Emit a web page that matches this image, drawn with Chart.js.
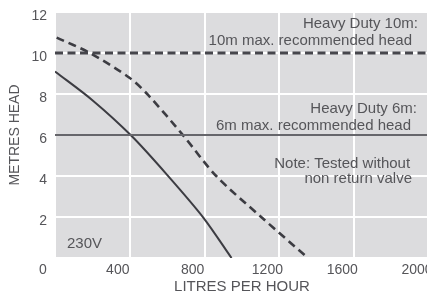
<!DOCTYPE html>
<html>
<head>
<meta charset="utf-8">
<script src="https://cdn.jsdelivr.net/npm/chart.js@4.4.1/dist/chart.umd.min.js"></script>
<style>
  html, body { margin: 0; padding: 0; background: #fff; overflow: hidden; }
  #wrap { width: 427px; height: 298px; overflow: hidden; }
</style>
</head>
<body>
<div id="wrap"><canvas id="grafico" width="440" height="298"></canvas></div>
<script>
// Pump curves: head (m) against flow (litres per hour)
const flowTicks = [0, 400, 800, 1200, 1600, 2000];
const headTicks = [0, 2, 4, 6, 8, 10, 12];

const duty6Flow = [0, 200, 410, 603, 795, 944];
const duty6Head = [9.1, 7.7, 5.95, 4.02, 1.95, 0];

const duty10Flow = [9, 187, 400, 500, 683, 862, 1104, 1349];
const duty10Head = [10.75, 10, 8.78, 7.93, 6.01, 4.0, 1.99, 0.03];

const maxHead6 = 6;
const maxHead10 = 10;

const notes = [
    { text: 'Heavy Duty 10m:', x: 1941, y: 11.22, align: 'right' },
    { text: '10m max. recommended head', x: 1909, y: 10.39, align: 'right' },
    { text: 'Heavy Duty 6m:', x: 1936, y: 7.05, align: 'right' },
    { text: '6m max. recommended head', x: 1904, y: 6.24, align: 'right' },
    { text: 'Note: Tested without', x: 1899, y: 4.40, align: 'right' },
    { text: 'non return valve', x: 1909, y: 3.64, align: 'right' },
    { text: '230V', x: 64, y: 0.47, align: 'left' }
];

const FONT = "'Liberation Sans', Arial, sans-serif";
const TEXT = '#555559';

function toPoints(xs, ys) {
    return xs.map((x, i) => ({ x: x, y: ys[i] }));
}

// gray plot background
const plotBackground = {
    id: 'plotBackground',
    beforeDraw(chart) {
        const { ctx, chartArea: a } = chart;
        ctx.save();
        ctx.fillStyle = '#dcdcde';
        ctx.fillRect(a.left, a.top, a.right - a.left, a.bottom - a.top);
        ctx.restore();
    }
};

// text notes inside the plot
const plotNotes = {
    id: 'plotNotes',
    afterDatasetsDraw(chart) {
        const { ctx, scales } = chart;
        ctx.save();
        ctx.font = '15px ' + FONT;
        ctx.fillStyle = TEXT;
        ctx.textBaseline = 'alphabetic';
        notes.forEach(n => {
            ctx.textAlign = n.align;
            ctx.fillText(n.text, scales.x.getPixelForValue(n.x), scales.y.getPixelForValue(n.y));
        });
        ctx.restore();
    }
};

new Chart(document.getElementById('grafico'), {
    type: 'line',
    data: {
        datasets: [
            {
                label: 'Heavy Duty 10m max',
                data: toPoints([0, 2000], [maxHead10, maxHead10]),
                borderColor: '#46464c',
                borderWidth: 3,
                borderDash: [8, 4.5],
                pointRadius: 0
            },
            {
                label: 'Heavy Duty 6m max',
                data: toPoints([0, 2000], [maxHead6, maxHead6]),
                borderColor: '#66666b',
                borderWidth: 1.8,
                pointRadius: 0
            },
            {
                label: 'Heavy Duty 10m',
                data: toPoints(duty10Flow, duty10Head),
                borderColor: '#3c3c42',
                borderWidth: 2.6,
                borderDash: [8, 5],
                pointRadius: 0,
                tension: 0.3
            },
            {
                label: 'Heavy Duty 6m',
                data: toPoints(duty6Flow, duty6Head),
                borderColor: '#3c3c42',
                borderWidth: 2,
                pointRadius: 0,
                tension: 0.3
            }
        ]
    },
    options: {
        responsive: false,
        animation: false,
        layout: { padding: { top: 12, right: 11, left: 0, bottom: 0 } },
        plugins: { legend: { display: false }, tooltip: { enabled: false } },
        scales: {
            x: {
                type: 'linear',
                min: flowTicks[0],
                max: flowTicks[flowTicks.length - 1],
                afterBuildTicks: s => { s.ticks = flowTicks.map(v => ({ value: v })); },
                afterFit: s => { s.height = 40; s.paddingLeft = 0; s.paddingRight = 0; },
                border: { display: false },
                grid: { color: '#ffffff', lineWidth: 2, drawTicks: false },
                ticks: { color: TEXT, font: { family: FONT, size: 14 }, padding: 4, labelOffset: -12, maxRotation: 0, callback: v => String(v) },
                title: { display: true, text: 'LITRES PER HOUR', color: TEXT, font: { family: FONT, size: 15 }, padding: { top: 0, bottom: 2 } }
            },
            y: {
                min: headTicks[0],
                max: headTicks[headTicks.length - 1],
                afterBuildTicks: s => { s.ticks = headTicks.map(v => ({ value: v })); },
                afterFit: s => { s.width = 55; s.paddingTop = 0; s.paddingBottom = 0; },
                border: { display: false },
                grid: { color: '#ffffff', lineWidth: 2, drawTicks: false },
                ticks: { color: TEXT, font: { family: FONT, size: 14 }, padding: 8, labelOffset: 4, callback: v => v === 0 ? '' : String(v) },
                title: { display: true, text: 'METRES HEAD', color: TEXT, font: { family: FONT, size: 14 }, padding: { top: 7, bottom: 0 } }
            }
        }
    },
    plugins: [plotBackground, plotNotes]
});
</script>
</body>
</html>
